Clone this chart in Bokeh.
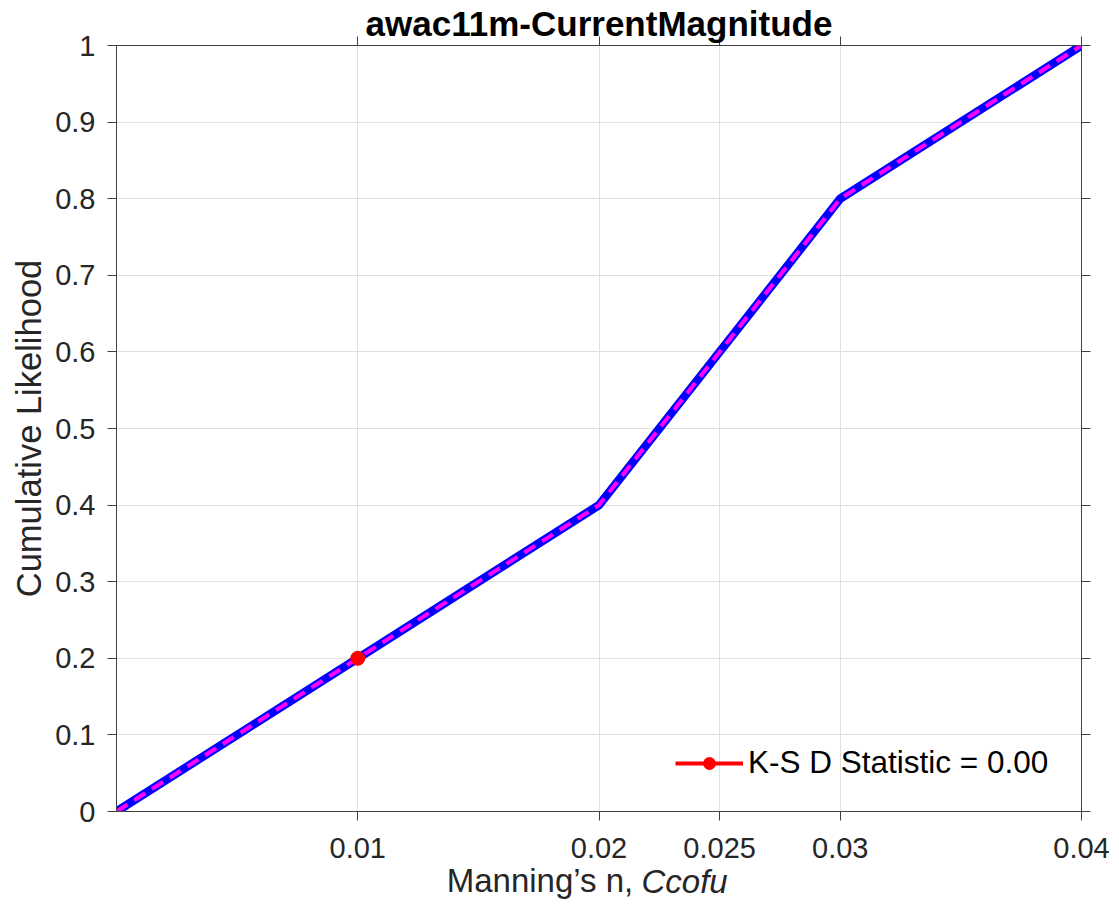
from bokeh.plotting import figure
from bokeh.models import (FixedTicker, LinearAxis, Legend, LegendItem,
                          CustomJSTickFormatter, Range1d, Grid)
from bokeh.embed import file_html
from bokeh.resources import INLINE

# ---- data ----
cdf_x = [0.0, 0.01, 0.02, 0.025, 0.03, 0.04]
obs_cdf = [0.0, 0.2, 0.4, 0.6, 0.8, 1.0]
sim_cdf = [0.0, 0.2, 0.4, 0.6, 0.8, 1.0]
ks_x = [0.01, 0.01]
ks_y = [0.2, 0.2]
x_ticks = [0.01, 0.02, 0.025, 0.03, 0.04]
y_ticks = [0.0, 0.1, 0.2, 0.3, 0.4, 0.5, 0.6, 0.7, 0.8, 0.9, 1.0]
title_text = "awac11m-CurrentMagnitude"
xlabel_parts = ["Manning’s n,", "Ccofu"]
ylabel = "Cumulative Likelihood"
legend_label = "K-S D Statistic = 0.00"

FONT = "Liberation Sans"
TXT = "#262626"
AX = "#404040"
W, H = 1119, 911
FL, FR, FT, FB = 116, 1081, 44, 811   # frame edges in canvas pixels
X0, X1 = 0.0, 0.04

p = figure(width=W, height=H, output_backend="svg", toolbar_location=None,
           x_range=Range1d(X0, X1), y_range=Range1d(0, 1),
           min_border_left=FL, min_border_right=W - FR, min_border_top=FT,
           min_border_bottom=H - FB, x_axis_location=None, y_axis_location=None)
p.outline_line_color = AX
p.background_fill_color = "white"

fmt = CustomJSTickFormatter(code="return Number(tick.toFixed(4)).toString();")
blank = CustomJSTickFormatter(code="return '';")

def style_axis(ax, ticks, show_labels):
    ax.ticker = FixedTicker(ticks=ticks)
    ax.formatter = fmt if show_labels else blank
    ax.axis_line_color = AX
    ax.major_tick_line_color = AX
    ax.major_tick_out = 9
    ax.major_tick_in = 0
    ax.minor_tick_line_color = None
    ax.major_label_text_font = FONT
    ax.major_label_text_color = TXT
    ax.major_label_text_font_size = "29px"

xb = LinearAxis(); style_axis(xb, x_ticks, True); xb.major_label_standoff = 17
yl = LinearAxis(); style_axis(yl, y_ticks, True); yl.major_label_standoff = 12
yl.axis_label = ylabel
yl.axis_label_text_font = FONT
yl.axis_label_text_font_style = "normal"
yl.axis_label_text_font_size = "34.5px"
yl.axis_label_text_color = TXT
yl.axis_label_standoff = 4

# top axis: mirrored ticks, carries the chart title as its label
xa = LinearAxis(); style_axis(xa, x_ticks, False)
xa.major_label_standoff = 0
xa.major_label_text_font_size = "1px"
xa.axis_label = title_text
xa.axis_label_text_font = FONT
xa.axis_label_text_font_style = "bold"
xa.axis_label_text_font_size = "35px"
xa.axis_label_text_color = "black"
xa.axis_label_standoff = -6

yr = LinearAxis(); style_axis(yr, y_ticks, False); yr.major_label_standoff = 0
p.add_layout(xb, "below")
p.add_layout(yl, "left")
p.add_layout(xa, "above")
p.add_layout(yr, "right")

# x-axis label with an upright and an italic part, drawn as single tick labels
LBL_SIZE = 33
def px_to_x(px):
    return X0 + (px - FL) / (FR - FL) * (X1 - X0)

part_w = [5.669 * LBL_SIZE, 2.612 * LBL_SIZE]   # approx text widths (px)
right_end = 633
italic_start = 641
centers = [right_end - part_w[0] / 2, italic_start + part_w[1] / 2]
styles = ["normal", "italic"]
standoffs = [1, -39]
for txt, cx, st, so in zip(xlabel_parts, centers, styles, standoffs):
    ax = LinearAxis(ticker=FixedTicker(ticks=[px_to_x(cx)]),
                    formatter=CustomJSTickFormatter(args=dict(label=txt),
                                                    code="return label;"))
    ax.axis_line_color = None
    ax.major_tick_line_color = None
    ax.minor_tick_line_color = None
    ax.major_tick_out = 0
    ax.major_tick_in = 0
    ax.major_label_standoff = so
    ax.major_label_text_font = FONT
    ax.major_label_text_font_style = st
    ax.major_label_text_font_size = f"{LBL_SIZE}px"
    ax.major_label_text_color = TXT
    p.add_layout(ax, "below")

p.xgrid.visible = False
p.ygrid.visible = False
gx = Grid(dimension=0, ticker=FixedTicker(ticks=x_ticks), grid_line_color="#e0e0e0")
gy = Grid(dimension=1, ticker=FixedTicker(ticks=y_ticks), grid_line_color="#e0e0e0")
p.add_layout(gx)
p.add_layout(gy)

p.line(cdf_x, sim_cdf, line_color="#0000ff", line_width=8.5)
p.line(cdf_x, obs_cdf, line_color="#ff00ff", line_width=4, line_dash="13 8")
ks_line = p.line(ks_x, ks_y, line_color="#ff0000", line_width=4)
ks_dot = p.scatter(ks_x[:1], ks_y[:1], size=14, color="#ff0000")

legend = Legend(items=[LegendItem(label=legend_label, renderers=[ks_line, ks_dot])],
                location=(559, 30), padding=0, margin=0, spacing=0,
                glyph_width=68, glyph_height=30, label_height=30,
                label_standoff=5, border_line_color=None,
                background_fill_alpha=0,
                label_text_font=FONT, label_text_font_size="31.5px",
                label_text_color="black")
p.add_layout(legend, "center")

open("out.html", "w").write(file_html(p, INLINE))
